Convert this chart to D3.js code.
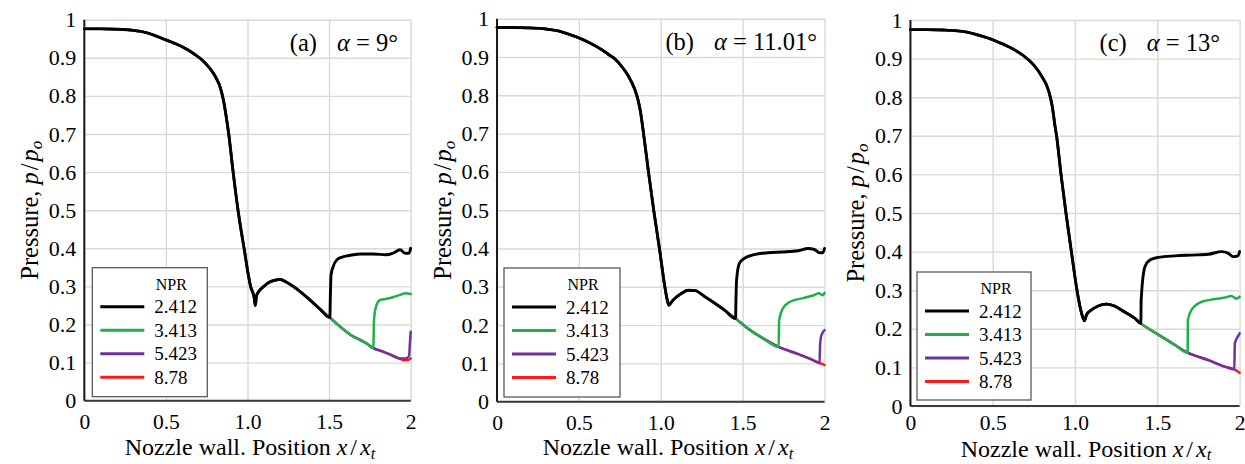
<!DOCTYPE html>
<html>
<head>
<meta charset="utf-8">
<script src="https://cdn.jsdelivr.net/npm/d3@7"></script>
<style>
  html, body { margin: 0; padding: 0; background: #fff; }
  svg { display: block; }
  text { font-family: "Liberation Serif", "DejaVu Serif", serif !important; fill: #000; }
</style>
</head>
<body>
<svg id="chart" width="1245" height="464"></svg>
<script>
// ---- axis ticks and labels ----
const xTicks = [0, 0.5, 1, 1.5, 2];
const xTickLabels = ["0", "0.5", "1.0", "1.5", "2"];
const yTicks = [0, 0.1, 0.2, 0.3, 0.4, 0.5, 0.6, 0.7, 0.8, 0.9, 1];
const yTickLabels = ["0", "0.1", "0.2", "0.3", "0.4", "0.5", "0.6", "0.7", "0.8", "0.9", "1"];
const nprLabels = ["2.412", "3.413", "5.423", "8.78"];
const panelTags = ["(a)", "(b)", "(c)"];
const alphaLabels = ["9°", "11.01°", "13°"];

// ---- (a) alpha = 9 deg : wall pressure p/p0 vs x/xt ----
// curve shared by every NPR up to the first shock
const upstreamA = [[0, 0.976], [0.1, 0.976], [0.2, 0.975], [0.3, 0.972], [0.36, 0.968], [0.43, 0.959],
  [0.5, 0.947], [0.57, 0.935], [0.63, 0.922], [0.68, 0.908], [0.72, 0.895], [0.76, 0.877], [0.79, 0.86],
  [0.81, 0.845], [0.83, 0.826], [0.852, 0.79], [0.868, 0.75], [0.885, 0.70], [0.912, 0.6], [0.942, 0.5],
  [0.979, 0.4], [1.019, 0.3], [1.04, 0.272], [1.048, 0.25], [1.055, 0.275], [1.075, 0.29], [1.1, 0.3],
  [1.13, 0.31], [1.165, 0.316], [1.2, 0.318], [1.23, 0.313], [1.28, 0.30], [1.36, 0.273], [1.44, 0.242],
  [1.505, 0.218]];
const blackTailA = [[1.507, 0.26], [1.512, 0.33], [1.525, 0.352], [1.546, 0.369], [1.58, 0.377], [1.61, 0.38],
  [1.69, 0.385], [1.77, 0.385], [1.85, 0.383], [1.89, 0.387], [1.935, 0.396], [1.965, 0.387], [1.99, 0.387], [2.0, 0.40]];
const midA = [[1.56, 0.197], [1.628, 0.174], [1.73, 0.15], [1.772, 0.138]];
const greenTailA = [[1.774, 0.2], [1.778, 0.225], [1.79, 0.25], [1.81, 0.264], [1.87, 0.269], [1.93, 0.277],
  [1.97, 0.282], [2.0, 0.28]];
const lowA = [[1.83, 0.129], [1.89, 0.118], [1.93, 0.111]];
const purpleTailA = [[1.97, 0.111], [1.99, 0.117], [1.995, 0.15], [2.0, 0.181]];
const redTailA = [[1.96, 0.106], [1.985, 0.107], [2.0, 0.111]];

// ---- (b) alpha = 11.01 deg ----
const upstreamB = [[0, 0.977], [0.1, 0.977], [0.2, 0.976], [0.3, 0.973], [0.375, 0.968], [0.44, 0.959],
  [0.5, 0.95], [0.57, 0.936], [0.64, 0.919], [0.69, 0.904], [0.72, 0.895], [0.76, 0.876], [0.80, 0.852],
  [0.84, 0.817], [0.86, 0.79], [0.875, 0.76], [0.895, 0.70], [0.925, 0.6], [0.957, 0.5], [0.992, 0.4],
  [1.025, 0.3], [1.04, 0.265], [1.05, 0.252], [1.065, 0.26], [1.087, 0.27], [1.128, 0.283], [1.168, 0.291],
  [1.21, 0.29], [1.27, 0.274], [1.33, 0.257], [1.39, 0.239], [1.457, 0.217]];
const blackTailB = [[1.459, 0.26], [1.463, 0.317], [1.48, 0.361], [1.51, 0.374], [1.57, 0.384], [1.655, 0.389],
  [1.74, 0.391], [1.84, 0.394], [1.90, 0.40], [1.94, 0.397], [1.97, 0.389], [1.99, 0.389], [2.0, 0.40]];
const midB = [[1.53, 0.192], [1.63, 0.164], [1.72, 0.143]];
const greenTailB = [[1.723, 0.213], [1.745, 0.243], [1.79, 0.261], [1.875, 0.271], [1.935, 0.278],
  [1.965, 0.283], [1.99, 0.278], [2.0, 0.284]];
const lowB = [[1.836, 0.125], [1.917, 0.111], [1.97, 0.101]];
const purpleTailB = [[1.973, 0.15], [1.98, 0.172], [2.0, 0.187]];
const redTailB = [[2.0, 0.096]];

// ---- (c) alpha = 13 deg ----
const upstreamC = [[0, 0.975], [0.1, 0.975], [0.2, 0.974], [0.28, 0.972], [0.352, 0.968], [0.42, 0.96],
  [0.494, 0.95], [0.56, 0.938], [0.615, 0.927], [0.717, 0.897], [0.76, 0.878], [0.798, 0.854], [0.838, 0.819],
  [0.862, 0.776], [0.879, 0.724], [0.888, 0.70], [0.915, 0.6], [0.945, 0.5], [0.978, 0.4], [1.012, 0.3],
  [1.04, 0.24], [1.057, 0.221], [1.07, 0.236], [1.10, 0.249], [1.14, 0.259], [1.19, 0.264], [1.24, 0.259],
  [1.30, 0.244], [1.364, 0.227], [1.40, 0.214]];
const blackTailC = [[1.402, 0.275], [1.425, 0.361], [1.455, 0.378], [1.506, 0.385], [1.607, 0.389],
  [1.709, 0.391], [1.81, 0.393], [1.89, 0.40], [1.93, 0.396], [1.96, 0.387], [1.99, 0.389], [2.0, 0.40]];
const midC = [[1.506, 0.185], [1.607, 0.158], [1.684, 0.138]];
const greenTailC = [[1.686, 0.223], [1.708, 0.249], [1.77, 0.27], [1.85, 0.277], [1.91, 0.281], [1.95, 0.285],
  [1.98, 0.278], [2.0, 0.283]];
const lowC = [[1.81, 0.119], [1.91, 0.102], [1.968, 0.095]];
const purpleTailC = [[1.971, 0.162], [1.99, 0.18], [2.0, 0.188]];
const redTailC = [[2.0, 0.086]];

// ---- styling ----
const seriesColors = ["#000000", "#1eb14b", "#7030a0", "#ff1a1a"];
const seriesWidths = [2.9, 2.5, 2.5, 2.5];

// assemble full curves for each NPR from the shared pieces
function assemble(up, blackTail, mid, greenTail, low, purpleTail, redTail) {
  return [
    up.concat(blackTail),
    up.concat(mid, greenTail),
    up.concat(mid, low, purpleTail),
    up.concat(mid, low, redTail)
  ];
}

const panels = [
  { series: assemble(upstreamA, blackTailA, midA, greenTailA, lowA, purpleTailA, redTailA),
    box: { left: 84.3, right: 410.7, top: 19.7, bottom: 400.7 },
    titleEnd: 398, xLabelX: 250, xLabelY: 455, tickPad: 13,
    legend: { x: 92.3, y: 267.7, w: 115, h: 129 } },
  { series: assemble(upstreamB, blackTailB, midB, greenTailB, lowB, purpleTailB, redTailB),
    box: { left: 497, right: 824.5, top: 18.7, bottom: 401.7 },
    titleEnd: 817, xLabelX: 668, xLabelY: 455, tickPad: 13,
    legend: { x: 504, y: 268, w: 116, h: 129 } },
  { series: assemble(upstreamC, blackTailC, midC, greenTailC, lowC, purpleTailC, redTailC),
    box: { left: 910.4, right: 1239.6, top: 20, bottom: 406 },
    titleEnd: 1220, xLabelX: 1086, xLabelY: 456.5, tickPad: 9,
    legend: { x: 917, y: 272, w: 114, h: 128 } }
];

const svg = d3.select("#chart");
svg.append("rect").attr("width", 1245).attr("height", 464).attr("fill", "#fff");

panels.forEach((p, pi) => {
  const b = p.box;
  const x = d3.scaleLinear().domain([0, 2]).range([b.left, b.right]);
  const y = d3.scaleLinear().domain([0, 1]).range([b.bottom, b.top]);
  const g = svg.append("g");

  // gridlines
  g.append("g")
    .attr("transform", `translate(0,${b.bottom})`)
    .call(d3.axisBottom(x).tickValues(xTicks).tickSize(-(b.bottom - b.top)).tickFormat(""))
    .call(s => s.select(".domain").remove())
    .call(s => s.selectAll("line").attr("stroke", "#d9d9d9").attr("stroke-width", 1.4));
  g.append("g")
    .attr("transform", `translate(${b.left},0)`)
    .call(d3.axisLeft(y).tickValues(yTicks).tickSize(-(b.right - b.left)).tickFormat(""))
    .call(s => s.select(".domain").remove())
    .call(s => s.selectAll("line").attr("stroke", "#d9d9d9").attr("stroke-width", 1.4));

  // tick labels
  g.append("g")
    .attr("transform", `translate(0,${b.bottom})`)
    .call(d3.axisBottom(x).tickValues(xTicks).tickSize(0).tickPadding(p.tickPad)
      .tickFormat((d, i) => xTickLabels[i]))
    .attr("font-family", null)
    .call(s => s.select(".domain").remove())
    .call(s => s.selectAll("text").attr("font-size", 21.5).attr("fill", "#000"));
  g.append("g")
    .attr("transform", `translate(${b.left},0)`)
    .call(d3.axisLeft(y).tickValues(yTicks).tickSize(0).tickPadding(8)
      .tickFormat((d, i) => yTickLabels[i]))
    .attr("font-family", null)
    .call(s => s.select(".domain").remove())
    .call(s => s.selectAll("text").attr("font-size", 22).attr("fill", "#000"));

  // axis lines
  g.append("line").attr("x1", b.left).attr("x2", b.right).attr("y1", b.bottom).attr("y2", b.bottom)
    .attr("stroke", "#3a3a3a").attr("stroke-width", 2);
  g.append("line").attr("x1", b.left).attr("x2", b.left).attr("y1", b.top).attr("y2", b.bottom)
    .attr("stroke", "#1a1a1a").attr("stroke-width", 2);

  // curves, highest NPR underneath
  const line = d3.line().x(d => x(d[0])).y(d => y(d[1])).curve(d3.curveMonotoneX);
  for (let k = p.series.length - 1; k >= 0; k--) {
    g.append("path").datum(p.series[k]).attr("d", line)
      .attr("fill", "none").attr("stroke", seriesColors[k]).attr("stroke-width", seriesWidths[k])
      .attr("stroke-linejoin", "round").attr("stroke-linecap", "round");
  }

  // panel title
  const t = g.append("text").attr("x", p.titleEnd).attr("y", b.top + 31)
    .attr("text-anchor", "end").attr("font-size", 24.5);
  t.append("tspan").text(panelTags[pi]);
  t.append("tspan").attr("dx", 20).attr("font-style", "italic").text("α");
  t.append("tspan").text(" = " + alphaLabels[pi]);

  // axis titles
  const yl = g.append("text")
    .attr("transform", `translate(${b.left - 46},${(b.top + b.bottom) / 2}) rotate(-90)`)
    .attr("text-anchor", "middle").attr("font-size", 24.5);
  yl.append("tspan").text("Pressure,  ");
  yl.append("tspan").attr("font-style", "italic").text("p");
  yl.append("tspan").attr("dx", 2).text("/");
  yl.append("tspan").attr("dx", 2).attr("font-style", "italic").text("p");
  yl.append("tspan").attr("font-style", "italic").attr("font-size", 17).attr("dy", 4).text("o");

  const xl = g.append("text").attr("x", p.xLabelX).attr("y", p.xLabelY)
    .attr("text-anchor", "middle").attr("font-size", 24);
  xl.append("tspan").text("Nozzle wall. Position ");
  xl.append("tspan").attr("font-style", "italic").text("x");
  xl.append("tspan").attr("dx", 3).text("/");
  xl.append("tspan").attr("dx", 3).attr("font-style", "italic").text("x");
  xl.append("tspan").attr("font-style", "italic").attr("font-size", 16.5).attr("dy", 3.5).text("t");

  // legend
  const L = p.legend;
  const lg = g.append("g").attr("transform", `translate(${L.x},${L.y})`);
  lg.append("rect").attr("width", L.w).attr("height", L.h)
    .attr("fill", "#fff").attr("stroke", "#595959").attr("stroke-width", 1.3);
  lg.append("text").attr("x", 79).attr("y", 22).attr("text-anchor", "middle")
    .attr("font-size", 16).text("NPR");
  nprLabels.forEach((lab, i) => {
    const ly = 39 + i * 23.5;
    lg.append("line").attr("x1", 8).attr("x2", 52).attr("y1", ly).attr("y2", ly)
      .attr("stroke", seriesColors[i]).attr("stroke-width", 3);
    lg.append("text").attr("x", 62).attr("y", ly + 6.5).attr("font-size", 19).text(lab);
  });
});
</script>
</body>
</html>
